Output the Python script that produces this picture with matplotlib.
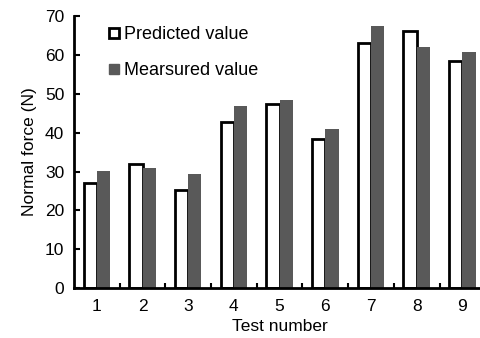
import matplotlib.pyplot as plt
from matplotlib.lines import Line2D
import numpy as np

plt.rcParams['font.family'] = ['Liberation Sans', 'DejaVu Sans']

# test data
tests = ['1', '2', '3', '4', '5', '6', '7', '8', '9']
predicted = [27.0, 31.9, 25.3, 42.8, 47.3, 38.4, 63.0, 66.0, 58.3]
measured = [30.2, 30.8, 29.4, 46.9, 48.4, 41.0, 67.4, 62.0, 60.8]

x = np.arange(1, len(tests) + 1)
w = 0.29

fig = plt.figure(figsize=(4.81, 3.38), dpi=100)
ax = fig.add_axes([0.1538, 0.147, 0.855, 0.806])

ax.bar(x - w / 2, predicted, width=w, color='white', edgecolor='black', linewidth=2)
ax.bar(x + w / 2, measured, width=w, color='#595959', edgecolor='none')

ax.set_xlim(0.5, 9.5)
ax.set_ylim(0, 70)
ax.set_yticks(range(0, 71, 10))
ax.set_xticks(x)
ax.set_xticklabels(tests)
ax.set_xticks(np.arange(1.5, 9.5, 1), minor=True)

ax.tick_params(axis='x', which='major', length=0, labelsize=12.5, pad=8)
ax.tick_params(axis='x', which='minor', direction='in', length=3.5, width=1.5)
ax.tick_params(axis='y', direction='in', length=4.5, width=1.5, labelsize=12.5, pad=7)

for s in ['top', 'right']:
    ax.spines[s].set_visible(False)
for s in ['left', 'bottom']:
    ax.spines[s].set_linewidth(2)

ax.set_xlabel('Test number', fontsize=12.5, labelpad=3)
ax.set_ylabel('Normal force (N)', fontsize=12.5, labelpad=6)

handles = [
    Line2D([], [], marker='s', linestyle='none', markersize=7,
           markerfacecolor='white', markeredgecolor='black', markeredgewidth=2),
    Line2D([], [], marker='s', linestyle='none', markersize=7,
           markerfacecolor='#595959', markeredgecolor='#595959'),
]
ax.legend(handles, ['Predicted value', 'Mearsured value'], loc='upper left',
          bbox_to_anchor=(0.035, 1.022), frameon=False, fontsize=13,
          handletextpad=0.1, handlelength=1.0, labelspacing=1.05)

fig.savefig('out.png', dpi=100)
